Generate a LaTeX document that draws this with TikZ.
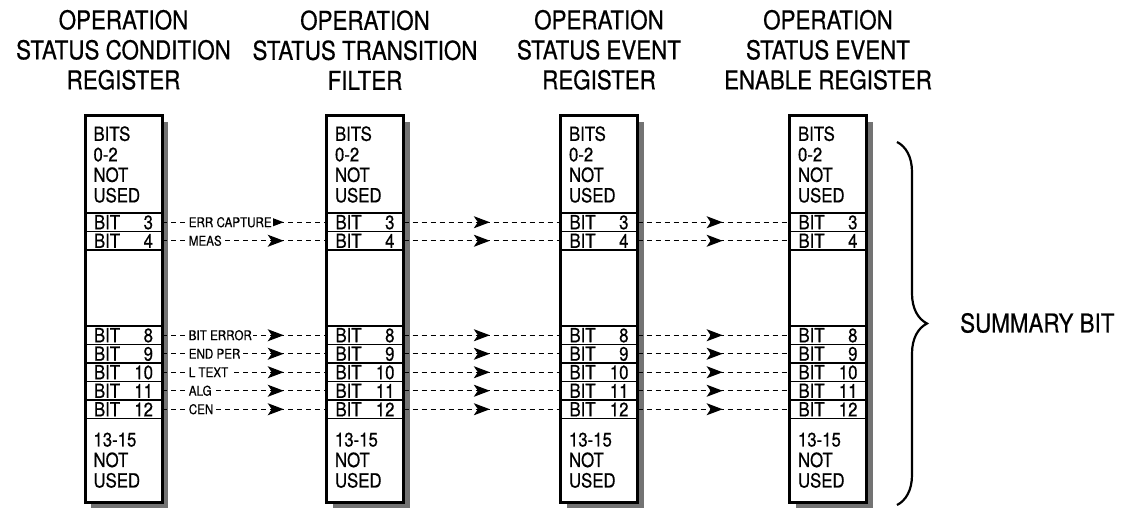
\documentclass[tikz,border=0pt]{standalone}
\usepackage{fontspec}
\setmainfont{TeX Gyre Heros}[FakeStretch=0.86, FakeBold=0.6]
\usetikzlibrary{positioning,arrows.meta,decorations.markings,decorations.pathreplacing,shadows}

\begin{document}
\begin{tikzpicture}[
    x=1pt, y=-1pt,
    reg/.style={rectangle, draw, line width=3pt, fill=white, minimum width=77pt,
      minimum height=386pt, inner sep=0pt, outer sep=0pt,
      drop shadow={shadow xshift=6pt, shadow yshift=-6pt, fill=black!55, opacity=1}},
    cell/.style={rectangle, draw, line width=1.5pt, minimum width=77pt, inner sep=0pt,
      outer sep=0pt, font=\fontsize{19.5}{20.5}\selectfont},
    blk/.style={cell, text width=60pt, align=left},
    title/.style={align=center, inner sep=0pt, font=\fontsize{26}{30}\selectfont},
    lbl/.style={fill=white, inner xsep=1.5pt, inner ysep=1pt, font=\fontsize{13.5}{15}\selectfont},
    sig/.style={dash pattern=on 5pt off 4pt, line width=1.3pt,
      postaction={decorate, decoration={markings,
        mark=at position #1 with {\arrow{Stealth[length=16pt, width=12pt, inset=4pt]}}}}},
    brc/.style={decorate, decoration={brace, amplitude=30pt}, line width=2.2pt},
    sumlbl/.style={inner sep=0pt, font=\fontsize{26}{30}\selectfont}
  ]
    \useasboundingbox (0,0) rectangle (1132,508);
    % registers
    \foreach \i/\x in {1/123.5, 2/365, 3/599, 4/828} {
      \node[reg] (reg\i) at (\x,309) {};
      \node[blk, minimum height=97pt, below=0pt of reg\i.north] (top\i) {BITS\\0-2\\NOT\\USED};
      \node[cell, minimum height=18.5pt, below=0pt of top\i] (b\i-3) {\hbox to 59pt{BIT\hfil 3}};
      \node[cell, minimum height=18.5pt, below=0pt of b\i-3] (b\i-4) {\hbox to 59pt{BIT\hfil 4}};
      \node[cell, minimum height=76pt, below=0pt of b\i-4] (b\i-7) {};
      \foreach \k in {8,...,12} {
        \pgfmathtruncatemacro\prev{\k-1}
        \node[cell, minimum height=18.5pt, below=0pt of b\i-\prev] (b\i-\k) {\hbox to 59pt{BIT\hfil \k}};
      }
      \node[blk, minimum height=83.5pt, below=0pt of b\i-12] (bot\i) {13-15\\NOT\\USED};
      \draw[line width=3pt] (reg\i.north west) rectangle (reg\i.south east);
    }
    % titles
    \node[title, above=26pt of reg1] (t1) {OPERATION\\STATUS CONDITION\\REGISTER};
    \node[title, above=26pt of reg2] (t2) {OPERATION\\STATUS TRANSITION\\FILTER};
    \node[title, above=26pt of reg3] (t3) {OPERATION\\STATUS EVENT\\REGISTER};
    \node[title, above=26pt of reg4] (t4) {OPERATION\\STATUS EVENT\\ENABLE REGISTER};
    % signal lines
    \foreach \k/\lab in {3/ERR CAPTURE, 4/MEAS, 8/BIT ERROR, 9/END PER, 10/L TEXT, 11/ALG, 12/CEN} {
      \draw[sig=0.74] (b1-\k.east) -- node[lbl, pos=0.15, anchor=west] {\lab} (b2-\k.west);
      \draw[sig=0.55] (b2-\k.east) -- (b3-\k.west);
      \draw[sig=0.56] (b3-\k.east) -- (b4-\k.west);
    }
    % summary
    \coordinate (btop) at (897,142);
    \coordinate (bbot) at (897,505);
    \coordinate (btip) at (928,323);
    \draw[brc] (btop) -- (bbot);
    \node[sumlbl, anchor=west, right=32pt of btip] (sum) {SUMMARY BIT};
\end{tikzpicture}
\end{document}
